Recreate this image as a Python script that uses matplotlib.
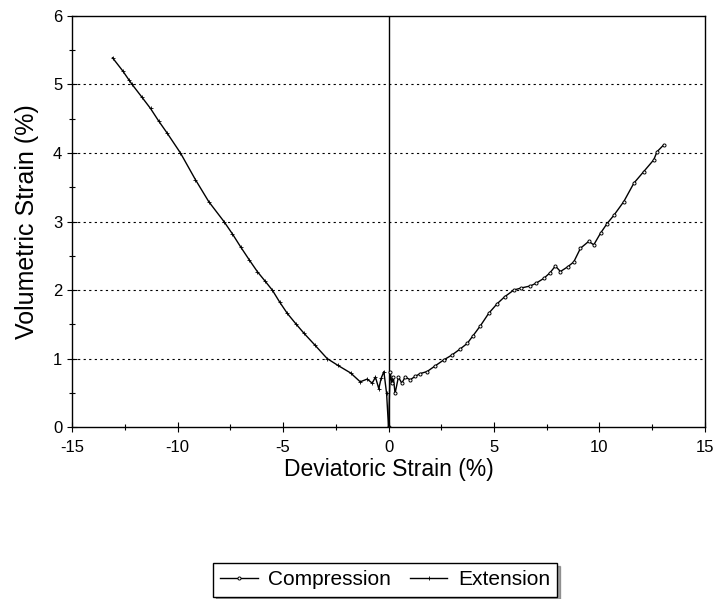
import matplotlib
matplotlib.use("Agg")
import matplotlib.pyplot as plt
from matplotlib.ticker import MultipleLocator

plt.rcParams["font.family"] = ["Liberation Sans", "DejaVu Sans"]
plt.rcParams["axes.unicode_minus"] = False

# compression branch (positive deviatoric strain)
comp_x = [0, 0.08, 0.16, 0.23, 0.31, 0.47, 0.63, 0.79, 1.03, 1.27, 1.5, 1.83,
          2.2, 2.62, 3.0, 3.4, 3.73, 4.0, 4.36, 4.75, 5.15, 5.5, 5.94, 6.3,
          6.73, 7.0, 7.36, 7.65, 7.91, 8.15, 8.5, 8.78, 9.1, 9.49, 9.73,
          10.05, 10.36, 10.68, 11.15, 11.63, 12.1, 12.57, 12.73, 13.05]
comp_y = [0, 0.81, 0.64, 0.73, 0.49, 0.73, 0.64, 0.73, 0.69, 0.74, 0.78, 0.81,
          0.89, 0.98, 1.05, 1.14, 1.22, 1.33, 1.48, 1.66, 1.80, 1.90, 2.0, 2.03,
          2.06, 2.10, 2.17, 2.25, 2.35, 2.27, 2.34, 2.41, 2.61, 2.71, 2.66,
          2.83, 2.97, 3.09, 3.29, 3.56, 3.73, 3.90, 4.02, 4.12]

# extension branch (negative deviatoric strain)
ext_x = [-13.08, -12.6, -12.31, -12.15, -11.7, -11.28, -10.9, -10.49, -9.86,
         -9.15, -8.52, -7.8, -7.4, -7.01, -6.6, -6.22, -5.85, -5.51, -5.15,
         -4.8, -4.4, -4.01, -3.5, -2.91, -2.4, -1.8, -1.34, -1.01, -0.77,
         -0.62, -0.46, -0.35, -0.22, -0.09, 0]
ext_y = [5.39, 5.2, 5.07, 5.0, 4.82, 4.65, 4.47, 4.29, 4.0, 3.61, 3.29, 3.0,
         2.82, 2.63, 2.44, 2.27, 2.13, 2.0, 1.82, 1.66, 1.51, 1.37, 1.2, 1.0,
         0.9, 0.79, 0.66, 0.70, 0.64, 0.73, 0.56, 0.71, 0.81, 0.49, 0]

fig = plt.figure(figsize=(7.16, 5.99), dpi=100)
ax = fig.add_axes([0.1006, 0.2871, 0.884, 0.6862])

ax.plot(comp_x, comp_y, color="black", lw=1, marker="o", ms=2.2,
        mfc="white", mew=0.7, label="Compression")
ax.plot(ext_x, ext_y, color="black", lw=1, marker="+", ms=3,
        mew=0.6, label="Extension")

ax.set_xlim(-15, 15)
ax.set_ylim(0, 6)
ax.xaxis.set_major_locator(MultipleLocator(5))
ax.xaxis.set_minor_locator(MultipleLocator(2.5))
ax.yaxis.set_major_locator(MultipleLocator(1))
ax.yaxis.set_minor_locator(MultipleLocator(0.5))
ax.tick_params(which="major", direction="inout", length=7, width=0.8,
               labelsize=12)
ax.tick_params(which="minor", direction="inout", length=5, width=0.8)
ax.tick_params(axis="x", pad=6)

for yv in range(1, 6):
    ax.axhline(yv, color="black", lw=0.8, ls=(0, (2, 3)), zorder=0)
ax.axvline(0, color="black", lw=1, zorder=1)

for s in ax.spines.values():
    s.set_linewidth(1)

ax.set_xlabel("Deviatoric Strain (%)", fontsize=16.5, labelpad=2)
ax.set_ylabel("Volumetric Strain (%)", fontsize=18, labelpad=10)

fig.legend(loc="center", bbox_to_anchor=(0.538, 0.032), ncol=2,
           fontsize=15, frameon=True, fancybox=False, shadow=True,
           edgecolor="black", handlelength=1.8, handletextpad=0.5,
           columnspacing=0.9, borderpad=0.35)

fig.savefig("out.png", dpi=100)
